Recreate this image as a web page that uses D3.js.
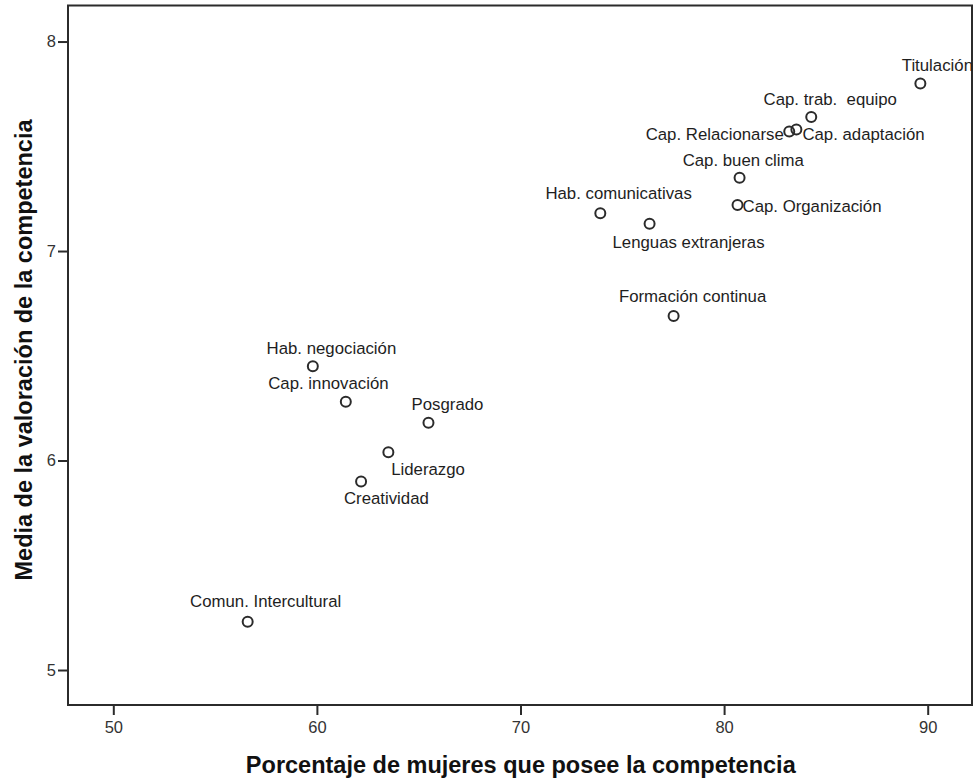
<!DOCTYPE html>
<html>
<head>
<meta charset="utf-8">
<script src="https://cdn.jsdelivr.net/npm/d3@7"></script>
<style>
  html, body { margin: 0; padding: 0; background: #fff; }
  svg { display: block; }
  text { font-family: "Liberation Sans", Arial, sans-serif; }
</style>
</head>
<body>
<svg id="chart" width="976" height="782"></svg>
<script>
// Competencias: % de mujeres que la poseen y valoración media
const competencias = [
  "Titulación", "Cap. trab.  equipo", "Cap. Relacionarse", "Cap. adaptación",
  "Cap. buen clima", "Cap. Organización", "Hab. comunicativas", "Lenguas extranjeras",
  "Formación continua", "Hab. negociación", "Cap. innovación", "Posgrado",
  "Liderazgo", "Creatividad", "Comun. Intercultural"
];
const porcentajeMujeres = [
  89.64, 84.28, 83.20, 83.55,
  80.76, 80.66, 73.92, 76.34,
  77.52, 59.80, 61.42, 65.48,
  63.51, 62.17, 56.60
];
const mediaValoracion = [
  7.80, 7.64, 7.57, 7.58,
  7.35, 7.22, 7.18, 7.13,
  6.69, 6.45, 6.28, 6.18,
  6.04, 5.90, 5.23
];
const xTicks = [50, 60, 70, 80, 90];
const yTicks = [5, 6, 7, 8];
const xTitle = "Porcentaje de mujeres que posee la competencia";
const yTitle = "Media de la valoración de la competencia";

// Label placement relative to each point: [dx, dy (baseline), text-anchor]
const labelPlacement = [
  [17, -12.5, "middle"], [19, -11.7, "middle"], [-5.5, 8, "end"], [6, 10.5, "start"],
  [3.7, -11.3, "middle"], [5, 6.7, "start"], [18.3, -14, "middle"], [39, 24, "middle"],
  [19, -13.7, "middle"], [18.6, -12, "middle"], [-17.4, -12.7, "middle"], [19, -12.5, "middle"],
  [39.7, 23.3, "middle"], [25.3, 22.6, "middle"], [18, -14.4, "middle"]
];

const frame = { left: 68, right: 972, top: 5.5, bottom: 705 };
const ink = "#2b2b2b";

const svg = d3.select("#chart");

const x = d3.scaleLinear().domain([47.775, 92.176]).range([frame.left, frame.right]);
const y = d3.scaleLinear().domain([4.833, 8.172]).range([frame.bottom, frame.top]);

// Axes (ticks outward, frame drawn separately)
const gx = svg.append("g")
  .attr("transform", `translate(0,${frame.bottom})`)
  .call(d3.axisBottom(x).tickValues(xTicks).tickFormat(d3.format("d")).tickSize(10).tickPadding(6));
const gy = svg.append("g")
  .attr("transform", `translate(${frame.left},0)`)
  .call(d3.axisLeft(y).tickValues(yTicks).tickFormat(d3.format("d")).tickSize(10).tickPadding(2));

[gx, gy].forEach(g => {
  g.select(".domain").remove();
  g.selectAll(".tick line").attr("stroke", ink).attr("stroke-width", 2);
  g.selectAll(".tick text")
    .attr("fill", "#333")
    .style("font-size", "16.5px")
    .style("font-family", "'Liberation Sans', Arial, sans-serif");
});

// Plot frame
svg.append("rect")
  .attr("x", frame.left).attr("y", frame.top)
  .attr("width", frame.right - frame.left).attr("height", frame.bottom - frame.top)
  .attr("fill", "none").attr("stroke", ink).attr("stroke-width", 2);

// Points
const pts = competencias.map((name, i) => ({
  name, px: porcentajeMujeres[i], my: mediaValoracion[i], place: labelPlacement[i]
}));

svg.append("g").selectAll("circle")
  .data(pts).join("circle")
  .attr("cx", d => x(d.px)).attr("cy", d => y(d.my))
  .attr("r", 5)
  .attr("fill", "none").attr("stroke", ink).attr("stroke-width", 2);

// Point labels
svg.append("g").selectAll("text")
  .data(pts).join("text")
  .attr("x", d => x(d.px) + d.place[0])
  .attr("y", d => y(d.my) + d.place[1])
  .attr("text-anchor", d => d.place[2])
  .attr("fill", "#1e1e1e")
  .style("font-size", "16.8px")
  .style("white-space", "pre")
  .attr("xml:space", "preserve")
  .text(d => d.name);

// Axis titles
svg.append("text")
  .attr("x", (243.3 + 798.3) / 2).attr("y", 773)
  .attr("text-anchor", "middle")
  .attr("fill", "#111")
  .style("font-size", "23.5px").style("font-weight", "bold")
  .text(xTitle);

svg.append("text")
  .attr("transform", "translate(31.5,350) rotate(-90)")
  .attr("text-anchor", "middle")
  .attr("fill", "#111")
  .style("font-size", "23.5px").style("font-weight", "bold")
  .text(yTitle);
</script>
</body>
</html>
